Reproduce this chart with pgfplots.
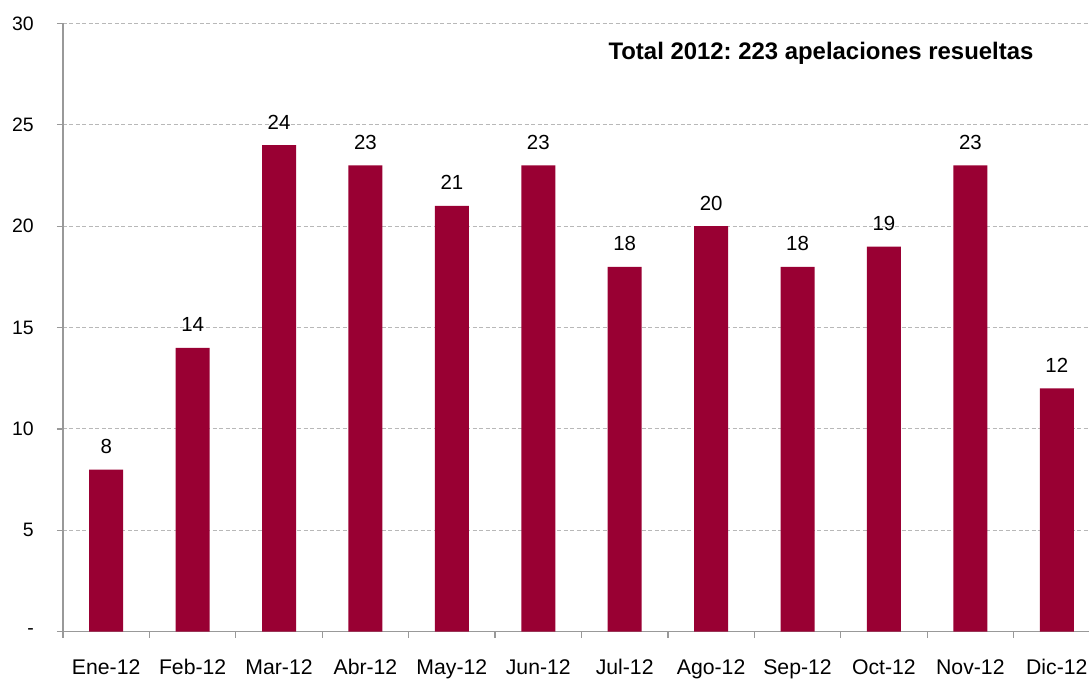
\documentclass[border=0pt]{standalone}
\usepackage{fontspec}
\setmainfont{Liberation Sans}
\usepackage{pgfplots}
\pgfplotsset{compat=1.18}
\usetikzlibrary{calc}
\definecolor{barred}{HTML}{990033}
\definecolor{axgray}{HTML}{999999}
\definecolor{gridgray}{HTML}{B8B8B8}
\frenchspacing
\begin{document}
\begin{tikzpicture}
\begin{axis}[
  scale only axis, width=1026bp, height=608.2bp,
  xmin=-0.5, xmax=11.373, ymin=0, ymax=30,
  axis lines=left, axis line style={draw=axgray, line width=1.2bp, -},
  /pgf/number format/assume math mode=true,
  ybar, bar width=34bp, bar shift=0pt,
  ytick={0,5,...,30}, yticklabels={-,5,10,15,20,25,30},
  minor ytick={0,5,...,30},
  xtick={0,...,11},
  xticklabels={Ene-12,Feb-12,Mar-12,Abr-12,May-12,Jun-12,Jul-12,Ago-12,Sep-12,Oct-12,Nov-12,Dic-12},
  minor xtick={-0.5,0.5,...,10.5},
  tick align=outside,
  major tick length=0pt, minor tick length=6bp,
  tick style={draw=axgray, line width=1.2bp},
  ymajorgrids,
  grid style={draw=gridgray, line width=1bp, dash pattern=on 4bp off 2.5bp},
  xticklabel style={font=\fontsize{21.3}{25}\selectfont, anchor=base, inner sep=0pt, yshift=-43bp},
  yticklabel style={font=\fontsize{19.5}{24}\selectfont, anchor=east, inner sep=0pt, xshift=-29bp},
  nodes near coords,
  every node near coord/.append style={font=\fontsize{20.5}{24}\selectfont, anchor=base, inner sep=0pt, yshift=16bp, text=black},
  clip=false,
]
\addplot[fill=barred, draw=none] coordinates {
  (0,8) (1,14) (2,24) (3,23) (4,21) (5,23) (6,18) (7,20) (8,18) (9,19) (10,23) (11,12)};
\node[anchor=base east, inner sep=0pt, font=\bfseries\fontsize{24}{28}\selectfont] at (rel axis cs:0.946,0.940) {Total 2012: 223 apelaciones resueltas};
\end{axis}
\pgfresetboundingbox
\path[use as bounding box] ($(current axis.south west)+(-63bp,-47.3bp)$) rectangle ($(current axis.north east)+(0,23.5bp)$);
\end{tikzpicture}
\end{document}
